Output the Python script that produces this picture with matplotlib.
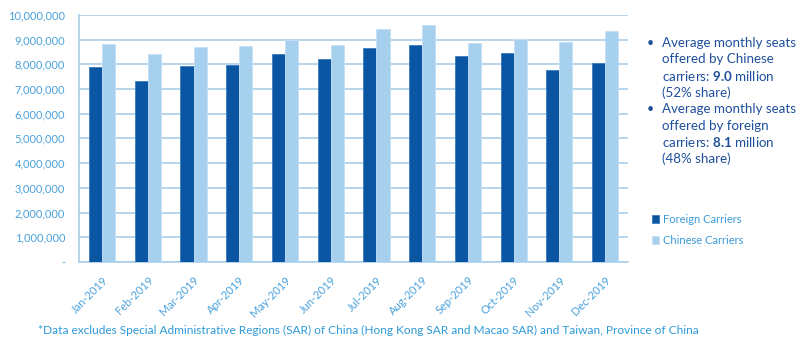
import matplotlib.pyplot as plt
import numpy as np
from matplotlib.ticker import FuncFormatter

MONTHS = ["Jan-2019", "Feb-2019", "Mar-2019", "Apr-2019", "May-2019", "Jun-2019",
          "Jul-2019", "Aug-2019", "Sep-2019", "Oct-2019", "Nov-2019", "Dec-2019"]
FOREIGN = [7890000, 7320000, 7930000, 7960000, 8430000, 8230000,
           8650000, 8780000, 8320000, 8470000, 7760000, 8040000]
CHINESE = [8830000, 8430000, 8690000, 8730000, 9000000, 8770000,
           9430000, 9600000, 8850000, 9040000, 8890000, 9360000]

DARK = "#0B56A3"
LIGHT = "#A6D0EE"
GRID = "#A9CDE8"
TICK = "#4AA2DC"
TEXT = "#1F4F9C"

plt.rcParams["font.family"] = ["Lato", "DejaVu Sans"]
plt.rcParams["mathtext.fontset"] = "custom"
plt.rcParams["mathtext.rm"] = "Lato"
plt.rcParams["mathtext.bf"] = "Lato:bold"

fig = plt.figure(figsize=(8.0, 3.46), dpi=100)
ax = fig.add_axes([0.099, 0.243, 0.686, 0.714])

x = np.arange(len(MONTHS))
width = 0.285
ax.bar(x - width / 2, FOREIGN, width, color=DARK, edgecolor="#3C7BC0", linewidth=0.6,
       label="Foreign Carriers", zorder=3)
ax.bar(x + width / 2, CHINESE, width, color=LIGHT, edgecolor="#C4E0F5", linewidth=0.6,
       label="Chinese Carriers", zorder=3)

ax.set_xlim(-0.5, len(MONTHS) - 0.5)
ax.set_ylim(0, 10000000)
ax.set_yticks(np.arange(0, 10000001, 1000000))
ax.yaxis.set_major_formatter(FuncFormatter(lambda v, _: "-" if v == 0 else f"{v:,.0f}"))
ax.grid(axis="y", color=GRID, linewidth=1.2, zorder=0)
ax.set_xticks(x)
ax.set_xticklabels(MONTHS, rotation=45, ha="right", rotation_mode="anchor")
ax.tick_params(axis="both", length=0, colors=TICK, labelsize=8)
ax.tick_params(axis="y", pad=10)
ax.tick_params(axis="x", pad=9)
for side in ["top", "right"]:
    ax.spines[side].set_visible(False)
for side in ["left", "bottom"]:
    ax.spines[side].set_color(GRID)
    ax.spines[side].set_linewidth(1.2)

leg = fig.legend(loc="upper left", bbox_to_anchor=(0.802, 0.41), frameon=False,
                 fontsize=8, handlelength=0.7, handleheight=0.7, handletextpad=0.3,
                 labelspacing=0.85)
for t in leg.get_texts():
    t.set_color("#3A9AD9")

bullets = [
    ["Average monthly seats", "offered by Chinese", r"carriers: $\mathbf{9.0}$ million", "(52% share)"],
    ["Average monthly seats", "offered by foreign", r"carriers: $\mathbf{8.1}$ million", "(48% share)"],
]
y0 = 0.877
step = 16.6 / 346
for block in bullets:
    fig.text(0.808, y0, "•", color=TEXT, fontsize=9, va="center")
    for line in block:
        fig.text(0.827, y0, line, color=TEXT, fontsize=9.6, va="center")
        y0 -= step

fig.text(0.047, 0.046, "*Data excludes Special Administrative Regions (SAR) of China "
         "(Hong Kong SAR and Macao SAR) and Taiwan, Province of China",
         color="#2E9AD8", fontsize=8.6, va="center")

fig.savefig("out.png")
